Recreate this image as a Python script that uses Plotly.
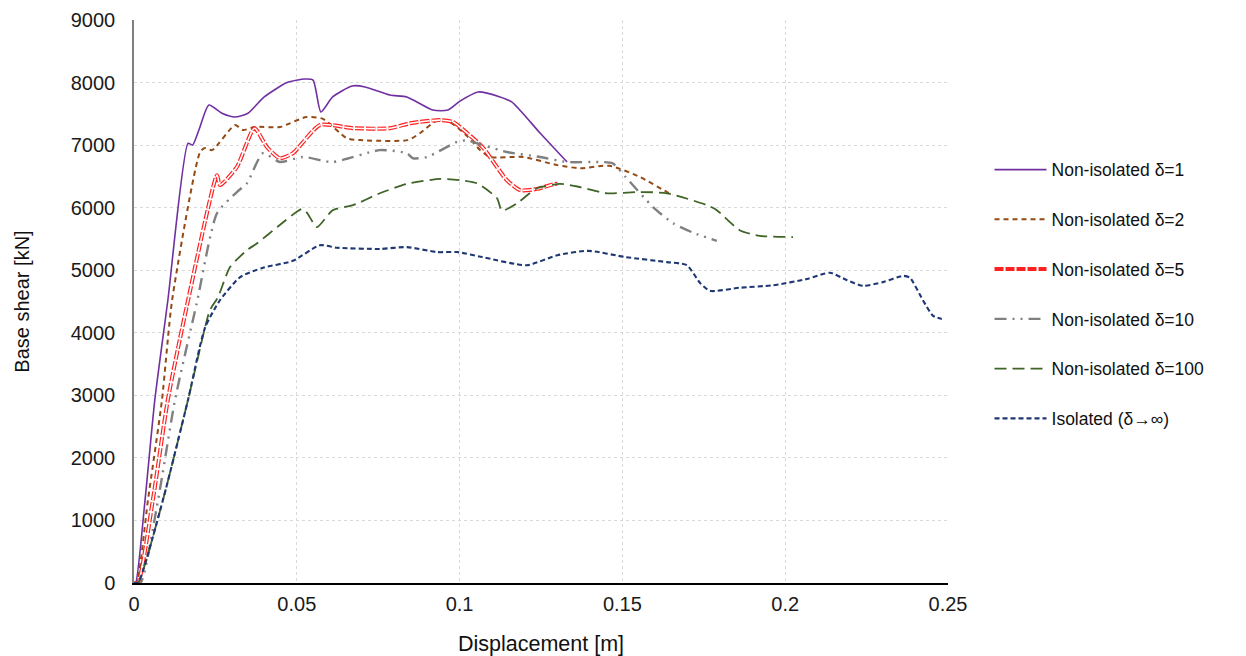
import plotly.graph_objects as go

# Data (displacement [m], base shear [kN])
d1_x = [0.0, 0.0005, 0.0034, 0.0064, 0.0104, 0.0166, 0.0180, 0.0200, 0.0230, 0.0270, 0.0310, 0.0350, 0.0400, 0.0470,
        0.0525, 0.0550, 0.0574, 0.0610, 0.0670, 0.0710, 0.0786, 0.0838, 0.0918, 0.0964, 0.1000, 0.1057, 0.1124,
        0.1160, 0.1247, 0.1330]
d1_y = [0, 0, 1330, 2930, 4520, 7030, 7000, 7250, 7640, 7510, 7450, 7510, 7770, 8000,
        8057, 8040, 7530, 7770, 7946, 7930, 7800, 7770, 7560, 7560, 7700, 7850, 7770,
        7690, 7194, 6730]

d2_x = [0.0, 0.0008, 0.0043, 0.0086, 0.0117, 0.0203, 0.0218, 0.0240, 0.0310, 0.0335, 0.0370, 0.0448, 0.0530, 0.0580,
        0.0654, 0.0694, 0.0841, 0.0878, 0.0930, 0.0970, 0.1026, 0.1063, 0.1093, 0.1195, 0.1300, 0.1370, 0.1460,
        0.1554, 0.1637, 0.1655]
d2_y = [0, 0, 1330, 2930, 4520, 6890, 6954, 6920, 7320, 7240, 7290, 7290, 7450, 7420,
        7110, 7080, 7080, 7190, 7390, 7370, 7130, 6920, 6810, 6810, 6680, 6630, 6670,
        6490, 6250, 6210]

d5_x = [0.0, 0.0012, 0.0058, 0.0104, 0.0166, 0.0255, 0.0264, 0.0316, 0.0370, 0.0408, 0.0448, 0.0488, 0.0571, 0.0673,
        0.0786, 0.0848, 0.0940, 0.0980, 0.1001, 0.1070, 0.1145, 0.1186, 0.1238, 0.1293, 0.1300]
d5_y = [0, 0, 1330, 2930, 4520, 6520, 6360, 6650, 7270, 6970, 6790, 6870, 7320, 7270,
        7270, 7350, 7400, 7370, 7290, 6970, 6440, 6280, 6300, 6380, 6380]

d10_x = [0.0, 0.0020, 0.0074, 0.0126, 0.0193, 0.0255, 0.0316, 0.0347, 0.0396, 0.0448, 0.0519, 0.0610, 0.0755, 0.0838,
         0.0857, 0.0900, 0.0992, 0.1026, 0.1040, 0.1145, 0.1247, 0.1330, 0.1431, 0.1470, 0.1510, 0.1594, 0.1656,
         0.1717, 0.1790]
d10_y = [0, 0, 1330, 2930, 4480, 5910, 6250, 6390, 6870, 6730, 6810, 6730, 6920, 6870,
         6790, 6810, 7050, 7080, 7050, 6890, 6810, 6730, 6730, 6710, 6490, 6010, 5750,
         5600, 5470]

d100_x = [0.0, 0.0012, 0.0089, 0.0166, 0.0218, 0.0233, 0.0258, 0.0295, 0.0347, 0.0378, 0.0440, 0.0516, 0.0531, 0.0562,
          0.0610, 0.0673, 0.0755, 0.0838, 0.0940, 0.1001, 0.1053, 0.1115, 0.1130, 0.1176, 0.1238, 0.1308, 0.1370,
          0.1453, 0.1554, 0.1637, 0.1760, 0.1790, 0.1860, 0.1922, 0.2024]
d100_y = [0, 0, 1330, 2930, 4080, 4360, 4570, 5050, 5320, 5430, 5690, 5980, 5920, 5690,
          5960, 6040, 6230, 6380, 6460, 6440, 6390, 6150, 5950, 6070, 6310, 6380, 6330,
          6230, 6250, 6230, 6040, 5960, 5640, 5550, 5530]

iso_x = [0.0, 0.0012, 0.0089, 0.0166, 0.0218, 0.0264, 0.0326, 0.0396, 0.0488, 0.0571, 0.0623, 0.0755, 0.0838, 0.0930,
         0.0992, 0.1070, 0.1206, 0.1300, 0.1394, 0.1510, 0.1637, 0.1698, 0.1738, 0.1769, 0.1860, 0.1963, 0.2067,
         0.2137, 0.2190, 0.2239, 0.2300, 0.2362, 0.2383, 0.2423, 0.2454, 0.2481]
iso_y = [0, 0, 1330, 2930, 4080, 4520, 4890, 5040, 5150, 5400, 5360, 5340, 5370, 5290,
         5290, 5210, 5080, 5240, 5310, 5210, 5130, 5080, 4800, 4670, 4720, 4760, 4860,
         4960, 4840, 4750, 4810, 4910, 4880, 4520, 4270, 4220]

x_ticks = [0, 0.05, 0.1, 0.15, 0.2, 0.25]
x_tick_labels = ["0", "0.05", "0.1", "0.15", "0.2", "0.25"]
y_ticks = list(range(0, 9001, 1000))

names = ["Non-isolated δ=1", "Non-isolated δ=2", "Non-isolated δ=5",
         "Non-isolated δ=10", "Non-isolated δ=100", "Isolated (δ→∞)"]

fig = go.Figure()
sm = 0.6

fig.add_trace(go.Scatter(x=d1_x, y=d1_y, name=names[0], mode="lines", legendgroup="g1",
                         line=dict(color="#7030a0", width=1.6, shape="spline", smoothing=sm)))
fig.add_trace(go.Scatter(x=d2_x, y=d2_y, name=names[1], mode="lines", legendgroup="g2",
                         line=dict(color="#944a14", width=2, dash="5px,4px", shape="spline", smoothing=sm)))
fig.add_trace(go.Scatter(x=d5_x, y=d5_y, name=names[2], mode="lines", legendgroup="g3",
                         line=dict(color="#ff2020", width=4, dash="9px,2px", shape="spline", smoothing=sm)))
fig.add_trace(go.Scatter(x=d5_x, y=d5_y, name=names[2], mode="lines", legendgroup="g3", showlegend=False,
                         hoverinfo="skip",
                         line=dict(color="#ffffff", width=1.6, dash="9px,2px", shape="spline", smoothing=sm)))
fig.add_trace(go.Scatter(x=d10_x, y=d10_y, name=names[3], mode="lines", legendgroup="g4",
                         line=dict(color="#808080", width=2.4, dash="12px,6px,2px,6px,2px,6px",
                                   shape="spline", smoothing=sm)))
fig.add_trace(go.Scatter(x=d100_x, y=d100_y, name=names[4], mode="lines", legendgroup="g5",
                         line=dict(color="#3f6427", width=1.8, dash="12px,6px", shape="spline", smoothing=sm)))
fig.add_trace(go.Scatter(x=iso_x, y=iso_y, name=names[5], mode="lines", legendgroup="g6",
                         line=dict(color="#1f3873", width=2.1, dash="5px,3px", shape="spline", smoothing=sm)))

font_family = "Liberation Sans, Arial, sans-serif"

fig.update_layout(
    width=1238, height=648,
    margin=dict(l=126, r=298, t=12, b=73),
    paper_bgcolor="white", plot_bgcolor="white",
    font=dict(family=font_family, size=18, color="#1a1a1a"),
    legend=dict(x=1.051, y=0.766, xanchor="left", yanchor="top",
                font=dict(size=17.5, color="#111111"), tracegroupgap=24,
                itemwidth=52, bgcolor="rgba(0,0,0,0)"),
    xaxis=dict(range=[0, 0.25], tickvals=x_ticks, ticktext=x_tick_labels, automargin=False,
               showgrid=True, gridcolor="#d9d9d9", griddash="dot", gridwidth=1,
               showline=True, linecolor="#000000", linewidth=1.5, zeroline=False,
               ticks="", ticklabelstandoff=2, tickfont=dict(size=20, color="#1a1a1a"),
               title=dict(text="Displacement [m]", font=dict(size=21.5, color="#111111"), standoff=26)),
    yaxis=dict(range=[0, 9000], tickvals=y_ticks, automargin=False,
               showgrid=True, gridcolor="#d9d9d9", griddash="dot", gridwidth=1,
               showline=True, linecolor="#7f7f7f", linewidth=1.5, zeroline=False,
               ticks="", ticklabelstandoff=13, tickfont=dict(size=20, color="#1a1a1a"),
               title=dict(text="Base shear [kN]", font=dict(size=20, color="#111111"), standoff=36)),
)

fig.write_html("out.html")
